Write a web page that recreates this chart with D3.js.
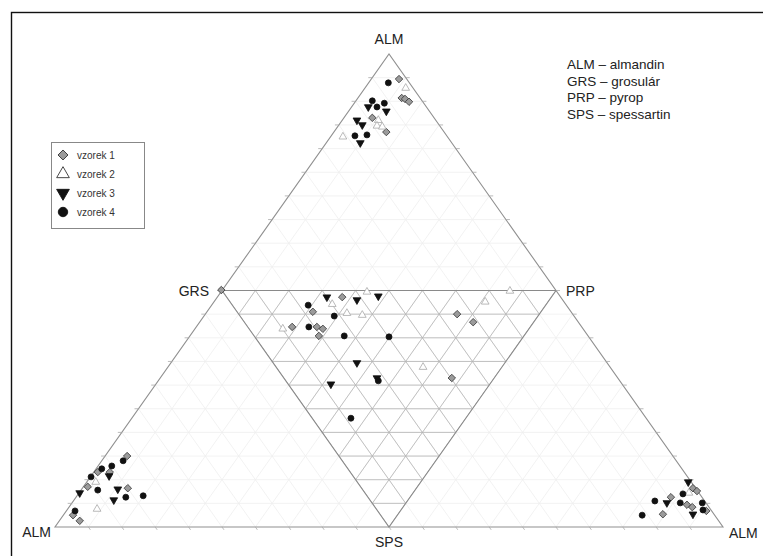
<!DOCTYPE html>
<html>
<head>
<meta charset="utf-8">
<script src="https://cdn.jsdelivr.net/npm/d3@7"></script>
<style>
  body { margin: 0; background: #fff; }
  svg { display: block; font-family: 'Liberation Sans', Arial, sans-serif; }
</style>
</head>
<body>
<div id="chart"></div>
<script>
// positions in diagram units: [% of base from the left ALM corner, % of height]
const vzorek1 = [
  [51.5, 94.7], [51.9, 90.7], [52.4, 90.5], [53.0, 89.9], [49.6, 83.5], [47.5, 86.5],
  [43.0, 48.6], [38.6, 45.5], [35.5, 42.3], [39.2, 42.3], [40.1, 41.9], [39.5, 40.4],
  [59.4, 31.5], [60.2, 45.0], [62.6, 43.3], [24.9, 50.1],
  [10.8, 15.0], [6.4, 11.6], [8.2, 11.6], [4.9, 8.5], [10.9, 8.2], [2.7, 2.5], [3.7, 1.3],
  [95.5, 8.2], [96.1, 7.6], [92.2, 6.3], [94.6, 4.7], [95.4, 4.2], [97.5, 3.4], [91.0, 2.7]
];
const vzorek2 = [
  [52.5, 92.8], [43.1, 82.5], [48.4, 86.0], [48.2, 84.8], [49.0, 84.6],
  [46.7, 49.7], [41.5, 47.1], [43.7, 45.2], [46.0, 44.8], [34.1, 41.9], [55.1, 33.8],
  [64.4, 47.6], [68.1, 49.9],
  [6.3, 3.8], [6.1, 9.5],
  [94.9, 7.2]
];
const vzorek3 = [
  [45.7, 81.2], [45.2, 86.0], [46.9, 88.8], [46.0, 85.0], [49.6, 87.9],
  [40.7, 48.6], [45.2, 48.0], [48.4, 48.8], [45.2, 34.7], [48.2, 31.5], [41.3, 30.2],
  [8.1, 10.8], [3.7, 7.2], [9.4, 8.0], [8.8, 5.7],
  [94.8, 9.5], [91.6, 5.1], [95.5, 2.7]
];
const vzorek4 = [
  [49.9, 93.9], [47.5, 90.1], [48.2, 88.8], [44.9, 82.7], [46.7, 82.9], [49.3, 89.6],
  [37.9, 46.9], [41.8, 44.6], [38.0, 42.3], [43.3, 40.4], [50.0, 40.2], [48.4, 30.9], [44.3, 23.0],
  [10.2, 14.0], [8.5, 12.9], [7.0, 12.3], [5.4, 10.6], [6.4, 7.8], [10.6, 6.3], [13.2, 6.6], [3.0, 3.4],
  [94.0, 7.0], [89.8, 5.5], [93.6, 5.1], [96.9, 5.1], [97.0, 3.6], [87.9, 2.5]
];
const seriesNames = ['vzorek 1', 'vzorek 2', 'vzorek 3', 'vzorek 4'];
const legendRows = ['ALM – almandin', 'GRS – grosulár', 'PRP – pyrop', 'SPS – spessartin'];
const divisions = 20;

const width = 763;
const height = 556;

const x = d3.scaleLinear().domain([0, 100]).range([55, 723]);
const y = d3.scaleLinear().domain([0, 100]).range([527, 54]);

// barycentric -> diagram units (b = right corner share, c = top corner share)
const tern = (b, c) => [100 * b + 50 * c, 100 * c];
const px = (p) => [x(p[0]), y(p[1])];
const line = d3.line().x((d) => x(d[0])).y((d) => y(d[1]));

const svg = d3.select('#chart')
  .append('svg')
  .attr('width', width)
  .attr('height', height);

// frame, runs off the right and bottom of the picture
svg.append('rect')
  .attr('x', 11.5)
  .attr('y', 12.5)
  .attr('width', 800)
  .attr('height', 600)
  .attr('fill', '#fff')
  .attr('stroke', '#111')
  .attr('stroke-width', 1.4);

const outer = [tern(0, 0), tern(1, 0), tern(0, 1)];
const inner = [tern(0, 0.5), tern(0.5, 0.5), tern(0.5, 0)];

const grid = [];
d3.range(1, divisions).forEach((k) => {
  const t = k / divisions;
  grid.push([tern(0, t), tern(1 - t, t)]);
  grid.push([tern(t, 0), tern(t, 1 - t)]);
  grid.push([tern(1 - t, 0), tern(0, 1 - t)]);
});

svg.append('defs')
  .append('clipPath')
  .attr('id', 'inner-clip')
  .append('path')
  .attr('d', `${line(inner)}Z`);

svg.append('g')
  .selectAll('path')
  .data(grid)
  .enter()
  .append('path')
  .attr('d', line)
  .attr('fill', 'none')
  .attr('stroke', '#efefef')
  .attr('stroke-width', 0.8);

svg.append('g')
  .attr('clip-path', 'url(#inner-clip)')
  .selectAll('path')
  .data(grid)
  .enter()
  .append('path')
  .attr('d', line)
  .attr('fill', 'none')
  .attr('stroke', '#b4b4b4')
  .attr('stroke-width', 0.8);

svg.append('path')
  .attr('d', `${line(outer)}Z`)
  .attr('fill', 'none')
  .attr('stroke', '#909090')
  .attr('stroke-width', 1.1);

svg.append('path')
  .attr('d', `${line(inner)}Z`)
  .attr('fill', 'none')
  .attr('stroke', '#8a8a8a')
  .attr('stroke-width', 1.1);

// small ticks along the outer edges
const ticks = [];
d3.range(1, divisions).forEach((k) => {
  const t = k / divisions;
  ticks.push({ p: tern(t, 0), a: tern(t + 0.006, -0.006) });
  ticks.push({ p: tern(0, t), a: tern(-0.006, t) });
  ticks.push({ p: tern(1 - t, t), a: tern(1 - t + 0.006, t) });
});
svg.append('g')
  .selectAll('line')
  .data(ticks)
  .enter()
  .append('line')
  .attr('x1', (d) => x(d.p[0]))
  .attr('y1', (d) => y(d.p[1]))
  .attr('x2', (d) => x(d.a[0]))
  .attr('y2', (d) => y(d.a[1]))
  .attr('stroke', '#aaa')
  .attr('stroke-width', 0.8);

const styles = [
  { type: d3.symbolSquare, size: 28, fill: '#9b9b9b', stroke: '#3a3a3a', rot: 45 },
  { type: d3.symbolTriangle, size: 26, fill: '#fff', stroke: '#a8a8a8', rot: 0 },
  { type: d3.symbolTriangle, size: 26, fill: '#111', stroke: '#111', rot: 180 },
  { type: d3.symbolCircle, size: 28, fill: '#111', stroke: '#111', rot: 0 },
];

const points = svg.append('g');
[vzorek1, vzorek2, vzorek3, vzorek4].forEach((data, i) => {
  const s = styles[i];
  points.selectAll(`.s${i}`)
    .data(data)
    .enter()
    .append('path')
    .attr('class', `s${i}`)
    .attr('d', d3.symbol().type(s.type).size(s.size))
    .attr('transform', (d) => `translate(${px(d)}) rotate(${s.rot})`)
    .attr('fill', s.fill)
    .attr('stroke', s.stroke)
    .attr('stroke-width', 0.8);
});

// corner labels
const corners = [
  { t: 'ALM', p: tern(0, 1), dx: 0, dy: -10, anchor: 'middle' },
  { t: 'GRS', p: tern(0, 0.5), dx: -13, dy: 5, anchor: 'end' },
  { t: 'PRP', p: tern(0.5, 0.5), dx: 10, dy: 5, anchor: 'start' },
  { t: 'SPS', p: tern(0.5, 0), dx: 0, dy: 20, anchor: 'middle' },
  { t: 'ALM', p: tern(0, 0), dx: -4, dy: 10, anchor: 'end' },
  { t: 'ALM', p: tern(1, 0), dx: 6, dy: 11, anchor: 'start' },
];
svg.append('g')
  .selectAll('text')
  .data(corners)
  .enter()
  .append('text')
  .attr('x', (d) => x(d.p[0]) + d.dx)
  .attr('y', (d) => y(d.p[1]) + d.dy)
  .attr('text-anchor', (d) => d.anchor)
  .attr('font-size', 14)
  .attr('fill', '#222')
  .text((d) => d.t);

svg.append('g')
  .selectAll('text')
  .data(legendRows)
  .enter()
  .append('text')
  .attr('x', 567)
  .attr('y', (d, i) => 69 + i * 16.7)
  .attr('font-size', 13.5)
  .attr('fill', '#222')
  .text((d) => d);

// series legend
const legend = svg.append('g').attr('transform', 'translate(51,142)');
legend.append('rect')
  .attr('x', 0.5)
  .attr('y', 0.5)
  .attr('width', 93)
  .attr('height', 86)
  .attr('fill', '#fff')
  .attr('stroke', '#888');
seriesNames.forEach((name, i) => {
  const s = styles[i];
  const row = legend.append('g').attr('transform', `translate(0,${13 + i * 19})`);
  row.append('path')
    .attr('d', d3.symbol().type(s.type).size(i === 0 ? 50 : 70))
    .attr('transform', `translate(12,0) rotate(${s.rot})`)
    .attr('fill', s.fill)
    .attr('stroke', i === 1 ? '#333' : s.stroke)
    .attr('stroke-width', 0.9);
  row.append('text')
    .attr('x', 26)
    .attr('y', 3.5)
    .attr('font-size', 10)
    .attr('fill', '#333')
    .text(name);
});
</script>
</body>
</html>
